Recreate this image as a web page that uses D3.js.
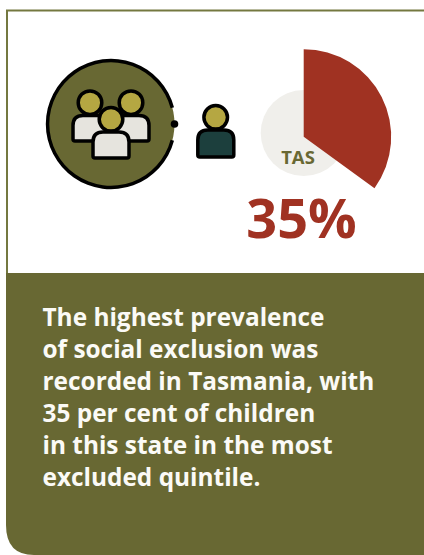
<!DOCTYPE html>
<html><head><meta charset="utf-8">
<script src="https://cdn.jsdelivr.net/npm/d3@7"></script>
<style>html,body{margin:0;padding:0;background:#fff}svg{display:block}text{font-family:"Open Sans",sans-serif}</style>
</head><body><div id="c"></div>
<script>
const state = "TAS";
const shareValues = [35, 65];
const shareLabel = "35%";
const bodyLines = [
  "The highest prevalence",
  "of social exclusion was",
  "recorded in Tasmania, with",
  "35 per cent of children",
  "in this state in the most",
  "excluded quintile."
];
const OLIVE = "#686833", RED = "#a03222", GOLD = "#b5a742", PALE = "#e6e4de", TEAL = "#1c3f3d";

const svg = d3.select("#c").append("svg").attr("width", 424).attr("height", 555);

// card frame
svg.append("path").attr("d", "M424,10.5H7V274").attr("fill", "none").attr("stroke", "#747840").attr("stroke-width", 2);
svg.append("path").attr("d", "M6,273H424V555H34Q6,555 6,525Z").attr("fill", OLIVE);

// pie
const cx = 303.7, cy = 136.7;
svg.append("circle").attr("cx", cx).attr("cy", 133).attr("r", 43).attr("fill", "#f0efeb");
const pie = d3.pie().sort(null)(shareValues);
svg.append("path").attr("transform", `translate(${cx},${cy})`)
  .attr("d", d3.arc().innerRadius(0).outerRadius(87.5)(pie[0])).attr("fill", RED);
svg.append("text").attr("x", 298).attr("y", 164).attr("text-anchor", "middle")
  .attr("font-size", 18.5).attr("font-weight", 700).attr("fill", OLIVE).text(state);
svg.append("text").attr("x", 301.5).attr("y", 238).attr("text-anchor", "middle")
  .attr("font-size", 54).attr("font-weight", 700).attr("fill", RED).text(shareLabel);

// text
svg.append("g").selectAll("text").data(bodyLines).join("text")
  .attr("x", 42.5).attr("y", (d, i) => 325.5 + i * 32)
  .attr("font-size", 24.4).attr("font-weight", 700).attr("fill", "#fbfaf6").text(d => d);

// people icon
const icon = svg.append("g").attr("stroke", "#000").attr("stroke-width", 3.5).attr("stroke-linejoin", "round");
icon.append("circle").attr("cx", 111).attr("cy", 124).attr("r", 63.5).attr("fill", OLIVE).attr("stroke", "none");
const ring = d3.arc().innerRadius(61.7).outerRadius(65.2).startAngle(Math.PI / 2 + 0.26).endAngle(Math.PI * 2.5 - 0.26);
icon.append("path").attr("transform", "translate(111,124)").attr("d", ring()).attr("fill", "#000").attr("stroke", "none");
icon.append("circle").attr("cx", 174.5).attr("cy", 124).attr("r", 3.8).attr("fill", "#000").attr("stroke", "none");

function body(x0, x1, y0, y1) {
  const r = 10, b = 2;
  return `M${x0},${y1 - b}V${y0 + r}Q${x0},${y0} ${x0 + r},${y0}H${x1 - r}Q${x1},${y0} ${x1},${y0 + r}V${y1 - b}Q${x1},${y1} ${x1 - b},${y1}H${x0 + b}Q${x0},${y1} ${x0},${y1 - b}Z`;
}
function person(hx, hy, x0, x1, y0, y1, fill) {
  icon.append("path").attr("d", body(x0, x1, y0, y1)).attr("fill", fill);
  icon.append("circle").attr("cx", hx).attr("cy", hy).attr("r", 11.8).attr("fill", GOLD);
}
person(90, 102.7, 73, 109, 115.5, 141, PALE);
person(131, 102.7, 113, 149, 115.5, 141, PALE);
person(111, 119.3, 93, 129, 132, 158, PALE);
person(215.7, 117.3, 197.8, 233.8, 130, 157, TEAL);
</script></body></html>
